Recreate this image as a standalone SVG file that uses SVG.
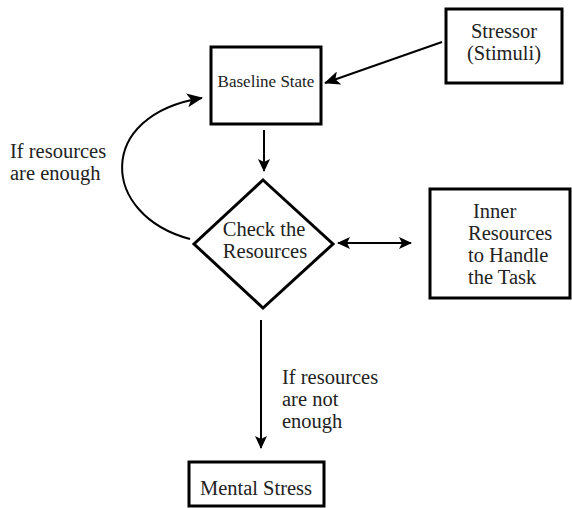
<svg xmlns="http://www.w3.org/2000/svg" width="572" height="508" viewBox="0 0 572 508">
<style>
.box{fill:#fff;stroke:#000;stroke-width:3}
.t{font-family:"Liberation Serif","Times New Roman",serif;font-size:20.5px;fill:#222}
.s{font-size:17px}
.c{stroke:#000;stroke-width:2;fill:none}
</style>
<defs>
<marker id="ah" markerWidth="13" markerHeight="12" refX="12" refY="6" orient="auto" markerUnits="userSpaceOnUse">
<path d="M0,0 L13,6 L0,12 L3,6 Z" fill="#000"/>
</marker>
<marker id="as" markerWidth="13" markerHeight="12" refX="1" refY="6" orient="auto" markerUnits="userSpaceOnUse">
<path d="M13,0 L0,6 L13,12 L10,6 Z" fill="#000"/>
</marker>
<marker id="ahb" markerWidth="16" markerHeight="14" refX="15" refY="7" orient="auto" markerUnits="userSpaceOnUse">
<path d="M0,0 L16,7 L0,14 L4,7 Z" fill="#000"/>
</marker>
</defs>
<g id="connectors">
<line class="c" x1="442" y1="42" x2="325" y2="83" stroke-width="3" marker-end="url(#ahb)"/>
<line class="c" x1="264" y1="130" x2="264" y2="171" marker-end="url(#ah)"/>
<path class="c" d="M190,239 C100,215 95,115 202,98" stroke-width="3" marker-end="url(#ahb)"/>
<line class="c" x1="338" y1="243" x2="411" y2="243" marker-start="url(#as)" marker-end="url(#ah)"/>
<line class="c" x1="261" y1="320" x2="261" y2="448" marker-end="url(#ah)"/>
</g>
<g id="baseline">
<rect class="box" x="211" y="47" width="110" height="77"/>
<text class="t s" x="266" y="87" text-anchor="middle">Baseline State</text>
</g>
<g id="stressor">
<rect class="box" x="446" y="9" width="116" height="74"/>
<text class="t" x="504" y="38" text-anchor="middle">Stressor</text>
<text class="t" x="504" y="60" text-anchor="middle">(Stimuli)</text>
</g>
<g id="check">
<polygon points="263,180 333,244 263,308 194,244" fill="#fff" stroke="#000" stroke-width="3"/>
<text class="t" x="264" y="236" text-anchor="middle">Check the</text>
<text class="t" x="265" y="258" text-anchor="middle">Resources</text>
</g>
<g id="inner">
<rect class="box" x="430" y="189" width="140" height="109"/>
<text class="t" x="473" y="218">Inner</text>
<text class="t" x="468" y="240">Resources</text>
<text class="t" x="468" y="262">to Handle</text>
<text class="t" x="468" y="284">the Task</text>
</g>
<g id="mental">
<rect class="box" x="189" y="462" width="135" height="44"/>
<text class="t" x="256" y="495" text-anchor="middle">Mental Stress</text>
</g>
<g id="labels">
<text class="t" x="10" y="158">If resources</text>
<text class="t" x="10" y="180">are enough</text>
<text class="t" x="282" y="384">If resources</text>
<text class="t" x="282" y="406">are not</text>
<text class="t" x="282" y="428">enough</text>
</g>
</svg>
